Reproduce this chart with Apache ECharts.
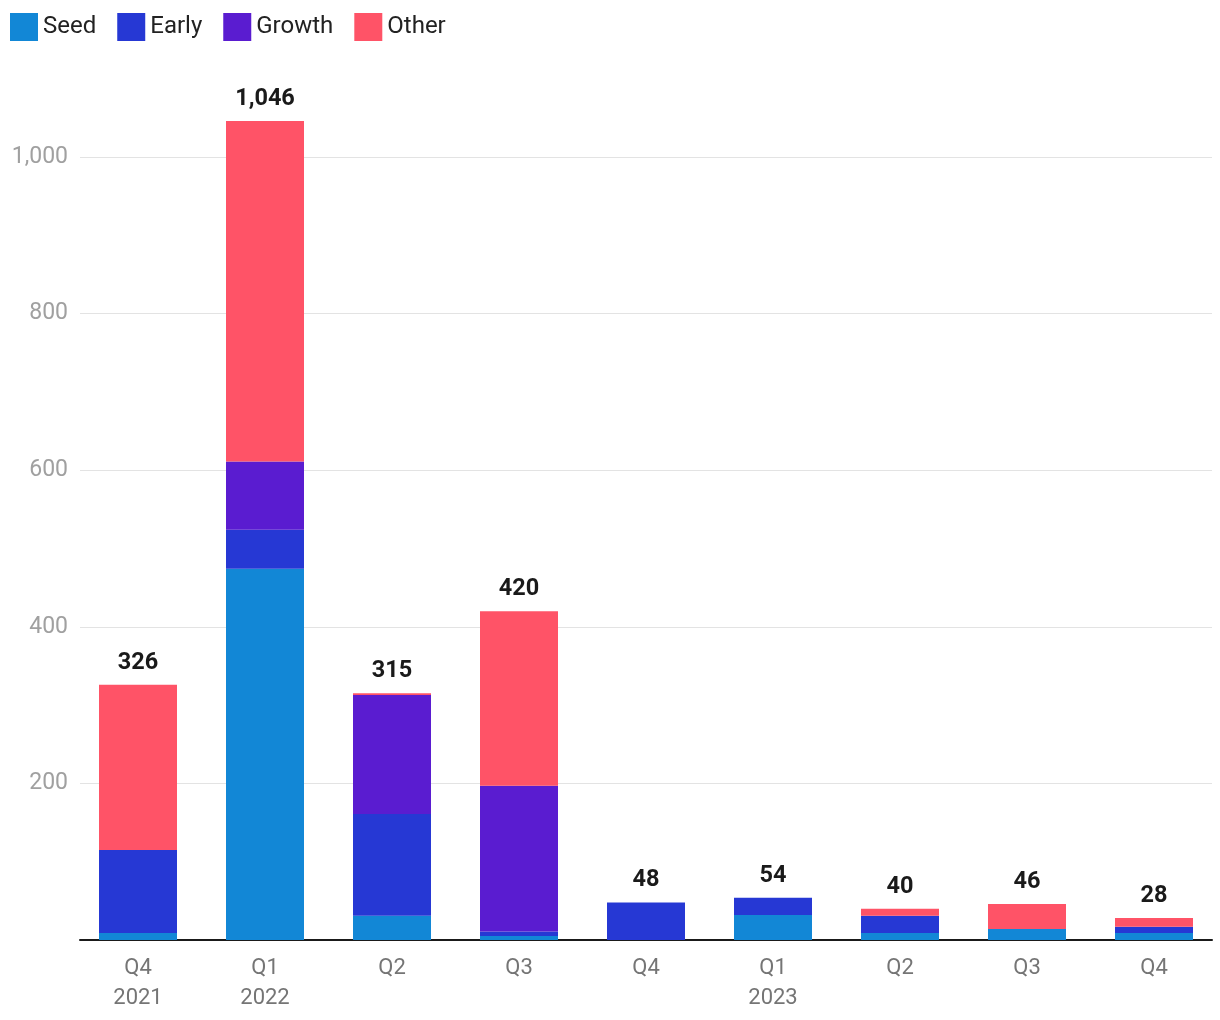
<!DOCTYPE html>
<html><head><meta charset="utf-8">
<script src="https://cdn.jsdelivr.net/npm/echarts@6/dist/echarts.min.js"></script>
<style>html,body{margin:0;padding:0;background:#fff}#c{width:1220px;height:1020px}</style>
</head><body><div id="c"></div>
<script>
const categories = ['Q4\n2021','Q1\n2022','Q2','Q3','Q4','Q1\n2023','Q2','Q3','Q4'];
const seed   = [9, 474, 31, 5, 0, 32, 9, 14, 9];
const early  = [106, 50, 130, 6, 48, 22, 22, 0, 8];
const growth = [0, 87, 152, 186, 0, 0, 0, 0, 0];
const other  = [211, 435, 2, 223, 0, 0, 9, 32, 11];
const totals = [326, 1046, 315, 420, 48, 54, 40, 46, 28];
const yTicks = [200, 400, 600, 800, 1000];

const colors = ['#1287D6', '#2638D4', '#5A1CD0', '#FF5367'];
const chart = echarts.init(document.getElementById('c'));
const fmt = v => v.toLocaleString('en-US');
function s(name, data, extra) {
  return Object.assign({ name, type: 'bar', stack: 'a', data, barWidth: 78, xAxisIndex: 0, yAxisIndex: 0 }, extra || {});
}
const yBase = { type: 'value', min: 0, max: 1100, interval: 200 };
chart.setOption({
  animation: false,
  color: colors,
  textStyle: { fontFamily: 'Roboto' },
  legend: {
    left: 10, top: 13, padding: 0, itemWidth: 28, itemHeight: 28, itemGap: 21,
    icon: 'rect',
    textStyle: { fontSize: 24, color: '#222', padding: [3, 0, 0, 0] },
    data: ['Seed', 'Early', 'Growth', 'Other']
  },
  grid: [
    { left: 74.5, right: 2.5, top: 78.7, bottom: 80 },
    { left: 80, right: 8, top: 78.7, bottom: 80 }
  ],
  xAxis: [
    { type: 'category', data: categories, gridIndex: 0,
      axisLine: { show: false }, axisTick: { show: false },
      axisLabel: { color: '#757575', fontSize: 22, lineHeight: 30, margin: 13 } },
    { type: 'category', data: categories, gridIndex: 1,
      axisLine: { lineStyle: { color: '#1a1a1a', width: 2 } },
      axisTick: { show: false }, axisLabel: { show: false } }
  ],
  yAxis: [
    Object.assign({}, yBase, { gridIndex: 0, axisLine: { show: false }, axisTick: { show: false },
      axisLabel: { show: false }, splitLine: { show: false } }),
    Object.assign({}, yBase, { gridIndex: 1, axisLine: { show: false }, axisTick: { show: false },
      axisLabel: { color: '#a0a0a0', fontSize: 23, margin: 12, showMaxLabel: false, showMinLabel: false,
        padding: [5, 0, 0, 0],
        formatter: v => yTicks.includes(v) ? fmt(v) : '' },
      splitLine: { showMaxLine: false, showMinLine: false, lineStyle: { color: '#e3e3e3', width: 1 } } })
  ],
  series: [
    s('Seed', seed),
    s('Early', early),
    s('Growth', growth),
    s('Other', other, { label: { show: true, position: 'top', distance: 10,
      fontSize: 23.5, fontWeight: 'bold', color: '#1a1a1a',
      formatter: p => fmt(totals[p.dataIndex]) } })
  ]
});
</script></body></html>
